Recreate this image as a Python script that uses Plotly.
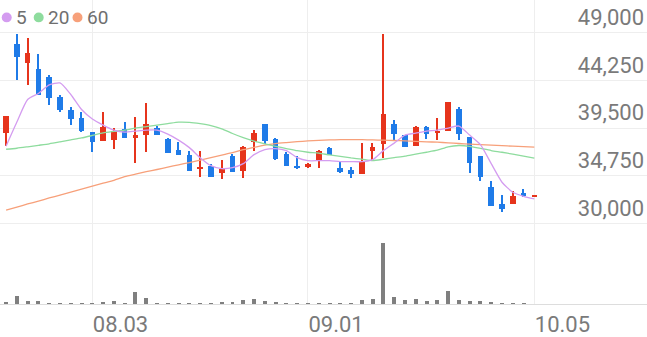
import plotly.graph_objects as go

# ---- data ----
dates = [
    "2020-07-22", "2020-07-23", "2020-07-24", "2020-07-27", "2020-07-28", "2020-07-29", "2020-07-30", "2020-07-31",
    "2020-08-03", "2020-08-04", "2020-08-05", "2020-08-06", "2020-08-07", "2020-08-10", "2020-08-11", "2020-08-12",
    "2020-08-13", "2020-08-14", "2020-08-18", "2020-08-19", "2020-08-20", "2020-08-21", "2020-08-24", "2020-08-25",
    "2020-08-26", "2020-08-27", "2020-08-28", "2020-08-31", "2020-09-01", "2020-09-02", "2020-09-03", "2020-09-04",
    "2020-09-07", "2020-09-08", "2020-09-09", "2020-09-10", "2020-09-11", "2020-09-14", "2020-09-15", "2020-09-16",
    "2020-09-17", "2020-09-18", "2020-09-21", "2020-09-22", "2020-09-23", "2020-09-24", "2020-09-25", "2020-09-28",
    "2020-09-29", "2020-10-05",
]
opens = [39000, 47850, 46000, 45400, 44600, 42550, 41350, 40500, 39100, 38200,
         38350, 39450, 38500, 38850, 39500, 38450, 37350, 36800, 35450, 35700,
         35000, 36700, 35200, 38100, 39900, 38450, 36900, 35750, 35650, 36250,
         37550, 35550, 35300, 34950, 37250, 37950, 39900, 38800, 37700, 39600,
         39000, 39200, 41450, 38600, 36700, 33600, 31950, 31900, 33050, 32700]
highs = [40750, 48850, 48500, 46850, 44750, 42750, 41650, 41150, 39100, 41150,
         39500, 40150, 40650, 42050, 39750, 38500, 38100, 37250, 37250, 35900,
         36350, 36900, 37700, 39350, 39900, 38500, 37150, 36700, 36000, 37350,
         37600, 36100, 35600, 38050, 38050, 48850, 40300, 38800, 39750, 39750,
         40500, 42100, 41650, 38600, 36700, 34250, 32800, 33200, 33450, 32850]
lows = [37700, 44250, 43750, 42750, 41800, 41150, 39800, 39100, 37100, 38200,
        37450, 38500, 36050, 37150, 38850, 37050, 36800, 35200, 34600, 34600,
        34450, 35100, 34500, 37250, 37950, 36300, 35700, 35400, 35550, 35550,
        36800, 35050, 34500, 34900, 36250, 36500, 38250, 37600, 37700, 38450,
        38350, 39200, 38350, 35000, 34200, 31700, 31150, 31900, 32600, 32700]
closes = [40750, 46550, 46950, 42750, 42450, 41350, 40400, 39200, 38100, 39600,
          39250, 38500, 38800, 39900, 38850, 37050, 36800, 35200, 35650, 34600,
          35450, 35100, 37650, 39000, 38200, 36450, 35700, 35600, 35900, 37250,
          36800, 35150, 34900, 36200, 37600, 40900, 38900, 37600, 39600, 38900,
          39250, 42100, 38900, 36000, 34650, 31700, 31450, 32700, 32700, 32850]
ma5 = [37700, 40100, 42350, 42950, 43800, 44000, 42850, 41350, 40400, 39800,
       39300, 39100, 39200, 39300, 39300, 38900, 38300, 37550, 36550, 35750,
       35450, 35550, 35950, 36850, 37350, 37450, 37250, 36550, 36250, 36250,
       36250, 36150, 36150, 36150, 36350, 37250, 38000, 38800, 39000, 39200,
       39300, 39500, 39700, 38800, 37850, 35950, 34100, 33100, 32700, 32450]
ma20 = [37390, 37490, 37630, 37780, 37930, 38120, 38320, 38520, 38760, 39010,
        39160, 39300, 39500, 39650, 39800, 39940, 40090, 40070, 39940, 39750,
        39430, 38960, 38540, 38200, 37930, 37680, 37460, 37240, 37090, 37000,
        36820, 36670, 36520, 36400, 36260, 36390, 36550, 36700, 36900, 37090,
        37290, 37630, 37760, 37680, 37470, 37260, 37090, 36900, 36700, 36500]
ma60 = [31320, 31620, 31930, 32220, 32530, 32820, 33110, 33410, 33700, 34000,
        34290, 34660, 34910, 35150, 35370, 35610, 35840, 36060, 36310, 36550,
        36800, 37040, 37340, 37580, 37800, 37950, 38050, 38140, 38220, 38280,
        38320, 38340, 38340, 38340, 38320, 38290, 38260, 38220, 38170, 38130,
        38090, 38030, 37960, 37900, 37840, 37790, 37740, 37690, 37640, 37600]
volume = [50, 200, 90, 80, 40, 25, 25, 25, 25, 55,
          80, 35, 310, 165, 40, 25, 25, 25, 25, 40,
          55, 50, 100, 125, 75, 50, 25, 25, 25, 40,
          25, 35, 25, 115, 140, 1540, 185, 105, 125, 85,
          100, 330, 105, 95, 75, 65, 35, 25, 25, 10]
tick_dates = ["2020-08-03", "2020-09-01", "2020-10-05"]
tick_text = ["08.03", "09.01", "10.05"]
price_ticks = [30000, 34750, 39500, 44250, 49000]
ma_names = ["5", "20", "60"]

# ---- style ----
UP = "#e6341c"
DOWN = "#1f7be8"
MA_COLORS = ["#d49cf0", "#8edc9e", "#f7a07a"]
W, H = 647, 337
FONT = "Roboto"
LABEL_COLOR = "#7a7a7a"

colors = [UP if c >= o else DOWN for o, c in zip(opens, closes)]
body_base = [min(o, c) for o, c in zip(opens, closes)]
body_len = [max(abs(c - o), 60) for o, c in zip(opens, closes)]
wick_len = [h - l for h, l in zip(highs, lows)]

fig = go.Figure()
fig.add_trace(go.Bar(x=dates, y=volume, yaxis="y2", width=0.37,
                     marker=dict(color="#7f7f7f", line=dict(width=0)), hoverinfo="skip"))
fig.add_trace(go.Bar(x=dates, base=lows, y=wick_len, width=0.12,
                     marker=dict(color=colors, line=dict(width=0)), hoverinfo="skip"))
fig.add_trace(go.Bar(x=dates, base=body_base, y=body_len, width=0.52,
                     marker=dict(color=colors, line=dict(width=0)), hoverinfo="skip"))
for vals, col in zip([ma60, ma20, ma5], [MA_COLORS[2], MA_COLORS[1], MA_COLORS[0]]):
    fig.add_trace(go.Scatter(x=dates, y=vals, mode="lines",
                             line=dict(color=col, width=1.3, shape="spline", smoothing=0.6),
                             hoverinfo="skip"))

bottom_px = 309
fig.update_layout(
    width=W, height=H, autosize=False,
    margin=dict(l=0, r=0, t=0, b=0),
    paper_bgcolor="white", plot_bgcolor="white",
    showlegend=False, barmode="overlay", bargap=0,
    xaxis=dict(type="category", domain=[0, 1], anchor="y",
               range=[-0.566, 59.45],
               tickvals=tick_dates, ticktext=tick_text,
               ticklabelposition="outside right",
               showgrid=True, gridcolor="#eeeeee", gridwidth=1,
               showline=True, linecolor="#dddddd", linewidth=1,
               ticks="", zeroline=False,
               tickfont=dict(family=FONT, size=22, color=LABEL_COLOR)),
    yaxis=dict(domain=[1 - bottom_px / H, 1], range=[21915, 52271],
               side="right", tickvals=price_ticks, tickformat=",",
               ticklabelposition="inside top",
               showgrid=True, gridcolor="#eeeeee", gridwidth=1,
               ticks="", showline=False, zeroline=False,
               tickfont=dict(family=FONT, size=22, color=LABEL_COLOR)),
    yaxis2=dict(overlaying="y", range=[0, 7675], visible=False),
)

# legend (circle + label)
leg_cx = [6.7, 38.7, 77.5]
leg_tx = [15, 47, 86]
cy = 17.7
for name, col, cx, tx in zip(ma_names, MA_COLORS, leg_cx, leg_tx):
    r = 5
    fig.add_shape(type="circle", xref="paper", yref="paper",
                  x0=(cx - r) / W, x1=(cx + r) / W,
                  y0=1 - (cy + r) / H, y1=1 - (cy - r) / H,
                  fillcolor=col, line=dict(width=0))
    fig.add_annotation(text=name, xref="paper", yref="paper",
                       x=tx / W, y=1 - cy / H, xanchor="left", yanchor="middle",
                       showarrow=False, borderpad=0,
                       font=dict(family=FONT, size=19, color="#6f6f6f"))

fig.write_html("out.html")
